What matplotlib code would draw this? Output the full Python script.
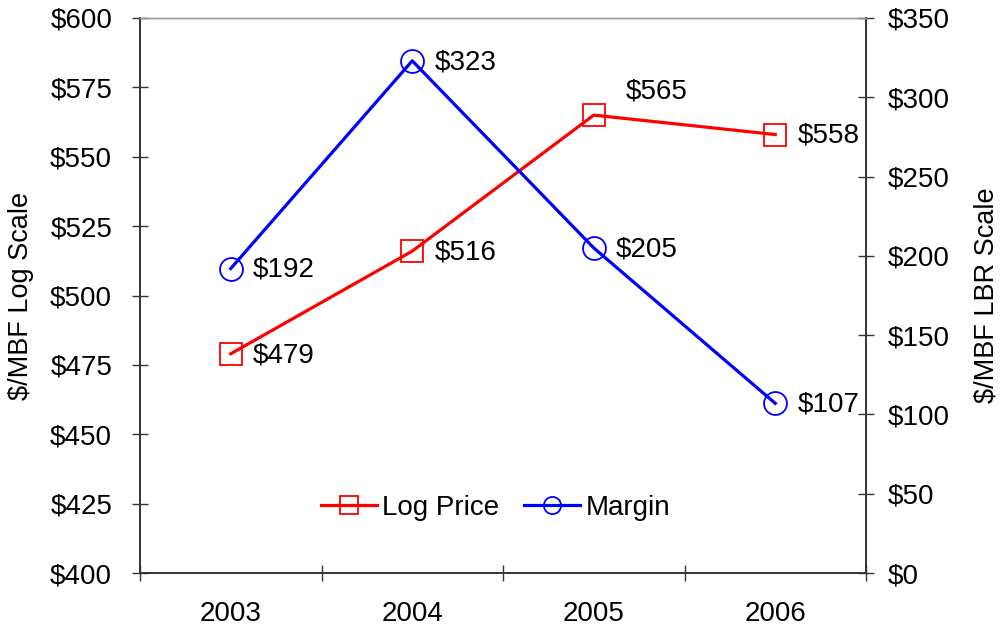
import matplotlib
matplotlib.use("Agg")
import matplotlib.pyplot as plt
from matplotlib.ticker import FuncFormatter, FixedLocator

plt.rcParams['font.family'] = ['Liberation Sans', 'DejaVu Sans']

years = ['2003', '2004', '2005', '2006']
log_price = [479, 516, 565, 558]
margin = [192, 323, 205, 107]
left_ticks = [400, 425, 450, 475, 500, 525, 550, 575, 600]
right_ticks = [0, 50, 100, 150, 200, 250, 300, 350]

fig = plt.figure(figsize=(10, 6.27), dpi=100)
ax1 = fig.add_axes([0.14, 0.0861, 0.726, 0.8852])
ax2 = ax1.twinx()

x = list(range(len(years)))
fs = 20

l1, = ax1.plot(x, log_price, color='#ff0000', lw=2.3, marker='s', ms=16.5,
               mfc='none', mec='#ff0000', mew=1.3, label='Log Price', zorder=3)
l2, = ax2.plot(x, margin, color='#0000ff', lw=2.3, marker='o', ms=16.5,
               mfc='none', mec='#0000ff', mew=1.3, label='Margin', zorder=3)

ax1.set_ylim(400, 600)
ax2.set_ylim(0, 350)
ax1.set_xlim(-0.5, 3.5)

ax1.yaxis.set_major_locator(FixedLocator(left_ticks))
ax2.yaxis.set_major_locator(FixedLocator(right_ticks))
fmt = FuncFormatter(lambda v, p: f'${v:.0f}')
ax1.yaxis.set_major_formatter(fmt)
ax2.yaxis.set_major_formatter(fmt)

ax1.set_xticks([-0.5, 0.5, 1.5, 2.5, 3.5])
ax1.set_xticklabels([])
ax1.set_xticks(x, minor=True)
ax1.set_xticklabels(years, minor=True)
ax1.tick_params(axis='x', which='minor', length=0, pad=20, labelsize=fs)
ax1.tick_params(axis='x', which='major', direction='inout', length=12, width=1, color='#333333')
ax1.tick_params(axis='y', direction='inout', length=12, width=1, color='#333333', labelsize=fs, pad=14)
ax2.tick_params(axis='y', direction='inout', length=12, width=1, color='#333333', labelsize=fs, pad=10)

for ax in (ax1, ax2):
    ax.spines['top'].set_color('#999999')
    ax.spines['top'].set_linewidth(1)
    for s in ('left', 'right', 'bottom'):
        ax.spines[s].set_color('#333333')
        ax.spines[s].set_linewidth(1.2)

ax1.set_ylabel('$/MBF Log Scale', fontsize=19.5, labelpad=12)
ax2.set_ylabel('$/MBF LBR Scale', fontsize=19.5, rotation=90, labelpad=17)

# data labels
for i, v in enumerate(log_price):
    if i == 2:
        ax1.annotate(f'${v}', (i, v), xytext=(23, 17), textcoords='offset points',
                     fontsize=fs, va='center', ha='left')
    else:
        ax1.annotate(f'${v}', (i, v), xytext=(16, -1), textcoords='offset points',
                     fontsize=fs, va='center', ha='left')
for i, v in enumerate(margin):
    ax2.annotate(f'${v}', (i, v), xytext=(16, -1), textcoords='offset points',
                 fontsize=fs, va='center', ha='left')

leg = ax1.legend(handles=[l1, l2], loc='center', bbox_to_anchor=(0.49, 0.118),
                 ncol=2, frameon=False, fontsize=fs, markerscale=0.75,
                 handlelength=2.0, handletextpad=0.2, columnspacing=0.9)

fig.savefig('out.png', dpi=100)
